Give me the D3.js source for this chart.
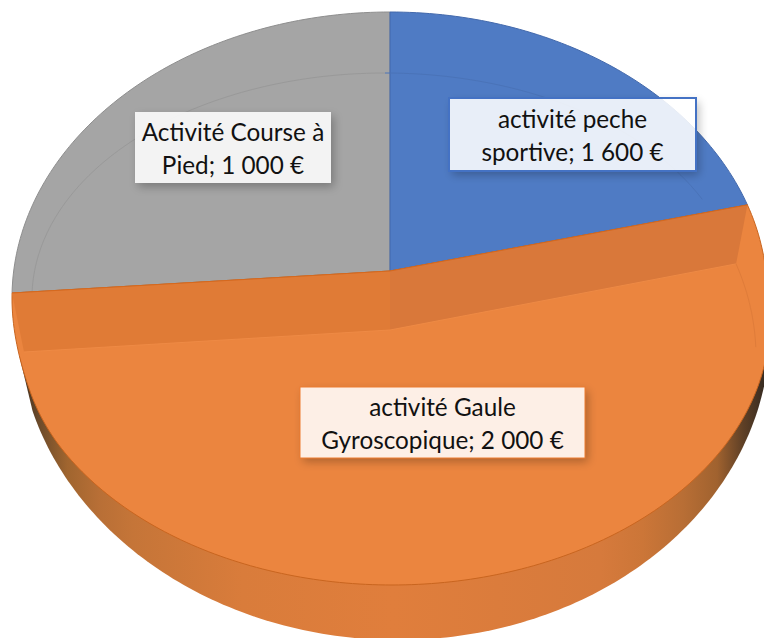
<!DOCTYPE html>
<html>
<head>
<meta charset="utf-8">
<script src="https://cdn.jsdelivr.net/npm/d3@7"></script>
<style>
  html, body { margin: 0; padding: 0; background: #fff; }
  svg { display: block; }
  text { font-family: Lato, "Open Sans", sans-serif; font-size: 24.3px; fill: #111; text-anchor: middle; }
</style>
</head>
<body>
<div id="chart"></div>
<script>
// values printed on the labels
const amounts = [1600, 2000, 1000];
const firstLines = ["activité peche", "activité Gaule", "Activité Course à"];
const secondLines = ["sportive;", "Gyroscopique;", "Pied;"];
// slice sizes in degrees as drawn in the picture (they do not follow the printed amounts)
const sliceDegrees = [71, 200, 89];
const sliceColors = ["#4F7BC4", "#EB853F", "#A5A5A5"];

const width = 764;
const height = 638;

const svg = d3.select("#chart").append("svg")
  .attr("width", width)
  .attr("height", height);

const defs = svg.append("defs");

// only the part of the shadow outside the box, the boxes are see-through
const shadow = defs.append("filter").attr("id", "boxShadow")
  .attr("x", "-20%").attr("y", "-30%").attr("width", "140%").attr("height", "170%");
shadow.append("feOffset").attr("in", "SourceAlpha").attr("dx", 3).attr("dy", 4).attr("result", "off");
shadow.append("feGaussianBlur").attr("in", "off").attr("stdDeviation", 5).attr("result", "blur");
shadow.append("feComponentTransfer").attr("in", "blur").attr("result", "soft")
  .append("feFuncA").attr("type", "linear").attr("slope", 0.26);
shadow.append("feComposite").attr("in", "soft").attr("in2", "SourceAlpha").attr("operator", "out");

// the side wall gets dark toward both ends
const wallGradient = defs.append("linearGradient").attr("id", "wallGradient")
  .attr("gradientUnits", "userSpaceOnUse")
  .attr("x1", 16).attr("x2", 770).attr("y1", 0).attr("y2", 0);
[[0, "#2e2620"], [0.012, "#4a3420"], [0.03, "#6b4a2a"], [0.068, "#a0652f"], [0.11, "#b86f36"],
 [0.155, "#c57538"], [0.3, "#d97c3b"], [0.5, "#e07e3c"], [0.775, "#d67a3c"], [0.83, "#cc7638"],
 [0.885, "#b86e35"], [0.93, "#a0622f"], [0.964, "#5f4026"], [1, "#2e2620"]]
  .forEach(s => wallGradient.append("stop").attr("offset", s[0]).attr("stop-color", s[1]));

// the disc is seen from above: an angle (clockwise from north) goes to a point on an ellipse
const rad = d => d * Math.PI / 180;
const ellipse = (cx, cy, rx, ry, tilt = 0) => a =>
  [cx + rx * Math.sin(a), cy - ry * Math.cos(a) + tilt * Math.sin(a)];

const upperRim = ellipse(390, 298, 378, 286);
const lowerRim = ellipse(392, 320, 378, 265);
const wallEdge = ellipse(394, 328, 376, 312, 3);
const faceRim = ellipse(390, 357, 366, 286);
const bevelRim = ellipse(385, 298, 353, 225);
const apex = [390, 271];
const faceApex = [390, 330];

const arcPoints = (rim, a0, a1, step = 1) =>
  d3.range(a0, a1, rad(step)).concat([a1]).map(rim);

const line = d3.line();

const pie = d3.pie().value(d => d).sort(null);
const slices = pie(sliceDegrees);
const [blue, orange, gray] = slices;

// orange outline slides from the upper rim to the lower rim near its two ends
const orangeRim = a => {
  const fade = rad(35);
  const t = d3.easeCubicInOut(Math.min(1, (a - orange.startAngle) / fade, (orange.endAngle - a) / fade));
  const p = upperRim(a);
  const q = lowerRim(a);
  return [p[0] + (q[0] - p[0]) * t, p[1] + (q[1] - p[1]) * t];
};

// wall under the orange slice, its left end thins out along the rim
svg.append("path")
  .attr("d", line(arcPoints(wallEdge, rad(95), rad(254)).concat([orangeRim(rad(259))])) + "Z")
  .attr("fill", "url(#wallGradient)");

// gray and blue lie flat on the upper rim
svg.selectAll("path.flat")
  .data([gray, blue])
  .join("path")
  .attr("class", "flat")
  .attr("d", d => line([apex].concat(arcPoints(upperRim, d.startAngle, d.endAngle))) + "Z")
  .attr("fill", d => sliceColors[d.index])
  .attr("stroke", d => d.index === 0 ? "#4369AC" : "#8E8E8E")
  .attr("stroke-width", 1);

// faint bevel line on gray and blue
svg.append("path")
  .attr("d", line(arcPoints(bevelRim, gray.startAngle, rad(360))))
  .attr("fill", "none").attr("stroke", "#999").attr("stroke-width", 1);
svg.append("path")
  .attr("d", line(arcPoints(bevelRim, blue.startAngle, rad(64))))
  .attr("fill", "none").attr("stroke", "#4A73B8").attr("stroke-width", 1);

svg.append("path")
  .attr("d", line([apex].concat(arcPoints(orangeRim, orange.startAngle, orange.endAngle))) + "Z")
  .attr("fill", sliceColors[1])
  .attr("stroke", "#C9651F")
  .attr("stroke-width", 1);

// inner walls of the orange slice
svg.append("path")
  .attr("d", line([apex, upperRim(orange.startAngle), faceRim(orange.startAngle), faceApex]) + "Z")
  .attr("fill", "#D9783A");
svg.append("path")
  .attr("d", line([apex, upperRim(orange.endAngle), faceRim(orange.endAngle), faceApex]) + "Z")
  .attr("fill", "#E07B36");

// top edge of those walls and the lighter edge of the face
svg.append("path")
  .attr("d", line([upperRim(orange.endAngle), apex, upperRim(orange.startAngle)]))
  .attr("fill", "none").attr("stroke", "#D5691F").attr("stroke-width", 1);
svg.append("path")
  .attr("d", line([faceRim(orange.endAngle), faceApex, faceRim(orange.startAngle)]))
  .attr("fill", "none").attr("stroke", "#EE8A45").attr("stroke-width", 1);
svg.append("path")
  .attr("d", line(arcPoints(faceRim, orange.startAngle, rad(88))))
  .attr("fill", "none").attr("stroke", "#DF7C3A").attr("stroke-width", 1);

// data labels
const euro = d3.formatLocale({ decimal: ",", thousands: " ", grouping: [3], currency: ["", " €"] }).format("$,.0f");
const labelBoxes = [
  { x: 449, y: 98, w: 247, h: 73, stroke: "#4472C4", sw: 2 },
  { x: 300, y: 387, w: 285, h: 71, stroke: "#ED7D31", sw: 1 },
  { x: 135, y: 112, w: 196, h: 71, stroke: "none", sw: 0 }
];
const labels = svg.selectAll("g.label")
  .data(amounts)
  .join("g")
  .attr("class", "label")
  .attr("transform", (d, i) => `translate(${labelBoxes[i].x},${labelBoxes[i].y})`);

labels.append("rect")
  .attr("width", (d, i) => labelBoxes[i].w)
  .attr("height", (d, i) => labelBoxes[i].h)
  .attr("filter", "url(#boxShadow)");
labels.append("rect")
  .attr("width", (d, i) => labelBoxes[i].w)
  .attr("height", (d, i) => labelBoxes[i].h)
  .attr("fill", "#fff")
  .attr("fill-opacity", 0.87)
  .attr("stroke", (d, i) => labelBoxes[i].stroke)
  .attr("stroke-width", (d, i) => labelBoxes[i].sw);
labels.append("text")
  .attr("x", (d, i) => labelBoxes[i].w / 2)
  .attr("y", (d, i) => labelBoxes[i].h / 2 - 7)
  .text((d, i) => firstLines[i]);
labels.append("text")
  .attr("x", (d, i) => labelBoxes[i].w / 2)
  .attr("y", (d, i) => labelBoxes[i].h / 2 + 26)
  .text((d, i) => secondLines[i] + " " + euro(d));
</script>
</body>
</html>
